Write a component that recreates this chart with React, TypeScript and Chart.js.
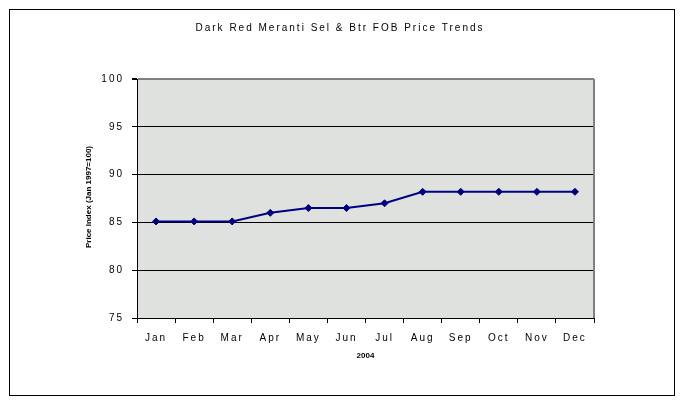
import React, { useEffect, useRef } from 'react';
import { Chart, registerables } from 'chart.js';

Chart.register(...registerables);

const months = ['Jan', 'Feb', 'Mar', 'Apr', 'May', 'Jun', 'Jul', 'Aug', 'Sep', 'Oct', 'Nov', 'Dec'];
const priceIndex = [85.1, 85.1, 85.1, 86.0, 86.5, 86.5, 87.0, 88.2, 88.2, 88.2, 88.2, 88.2];
const yMin = 75;
const yMax = 100;
const yStep = 5;
const chartTitle = 'Dark Red Meranti Sel & Btr FOB Price Trends';
const xAxisTitle = '2004';
const yAxisTitle = 'Price Index (Jan 1997=100)';

const FONT = "'Liberation Sans', Arial, sans-serif";

const excelPlugin = {
  id: 'excelLook',
  beforeLayout(chart: any) {
    chart.ctx.letterSpacing = '2px';
  },
  beforeDraw(chart: any) {
    const { ctx, chartArea } = chart;
    ctx.letterSpacing = '2px';
    ctx.save();
    ctx.fillStyle = '#ffffff';
    ctx.fillRect(0, 0, chart.width, chart.height);
    ctx.fillStyle = '#DFE1DF';
    ctx.fillRect(chartArea.left, chartArea.top, chartArea.right - chartArea.left, chartArea.bottom - chartArea.top);
    ctx.restore();
  },
  beforeDatasetsDraw(chart: any) {
    const { ctx, chartArea } = chart;
    ctx.save();
    ctx.strokeStyle = '#808080';
    ctx.lineWidth = 2;
    ctx.beginPath();
    ctx.moveTo(chartArea.right, chartArea.top);
    ctx.lineTo(chartArea.right, chartArea.bottom);
    ctx.stroke();
    ctx.restore();
  },
  afterDraw(chart: any) {
    const { ctx, chartArea } = chart;
    ctx.save();
    ctx.letterSpacing = '0px';
    ctx.fillStyle = '#000';
    ctx.font = `bold 8px ${FONT}`;
    ctx.textAlign = 'center';
    ctx.textBaseline = 'middle';
    ctx.fillText(xAxisTitle, (chartArea.left + chartArea.right) / 2, 356);
    ctx.save();
    ctx.translate(89, 197);
    ctx.rotate(-Math.PI / 2);
    ctx.fillText(yAxisTitle, 0, 0);
    ctx.restore();
    ctx.strokeStyle = '#000';
    ctx.lineWidth = 1;
    ctx.strokeRect(9.5, 9.5, 665, 386);
    ctx.restore();
  },
};

export default function App() {
  const canvasRef = useRef<HTMLCanvasElement>(null);

  useEffect(() => {
    const canvas = canvasRef.current;
    if (!canvas) return;
    const tickFont = { family: FONT, size: 10, weight: 'normal' as const };
    const chart = new Chart(canvas, {
      type: 'line',
      data: {
        labels: months,
        datasets: [
          {
            data: priceIndex,
            borderColor: '#000080',
            backgroundColor: '#000080',
            borderWidth: 2,
            pointStyle: 'rectRot',
            pointRadius: 3.5,
            pointBorderWidth: 1,
            tension: 0,
          },
        ],
      },
      options: {
        responsive: false,
        animation: false,
        devicePixelRatio: 1,
        layout: { padding: { left: 86, right: 86, top: 0, bottom: 0 } },
        plugins: {
          legend: { display: false },
          tooltip: { enabled: false },
          title: {
            display: true,
            text: chartTitle,
            color: '#000',
            font: { family: FONT, size: 10, weight: 'normal' },
            padding: { top: 22, bottom: 45 },
          },
        },
        scales: {
          x: {
            type: 'category',
            offset: true,
            grid: {
              offset: true,
              drawOnChartArea: false,
              drawTicks: true,
              tickLength: 5,
              tickColor: '#000',
            },
            border: { color: '#000', width: 1 },
            ticks: { color: '#000', font: tickFont, padding: 9, maxRotation: 0, autoSkip: false },
            afterFit(scale: any) {
              scale.height = 88;
            },
          },
          y: {
            min: yMin,
            max: yMax,
            ticks: { stepSize: yStep, color: '#000', font: tickFont, padding: 8 },
            grid: {
              color: (c: any) => (c.tick && c.tick.value === yMax ? '#808080' : '#000'),
              lineWidth: (c: any) => (c.tick && c.tick.value === yMax ? 2 : 1),
              tickColor: '#000',
              tickLength: 5,
            },
            border: { color: '#000', width: 1 },
            afterFit(scale: any) {
              scale.width = 51;
            },
          },
        },
      },
      plugins: [excelPlugin],
    });
    return () => chart.destroy();
  }, []);

  return (
    <div style={{ position: 'fixed', left: 0, top: 0, width: 680, height: 406, background: '#fff' }}>
      <canvas ref={canvasRef} width={680} height={406} style={{ display: 'block' }} />
    </div>
  );
}
